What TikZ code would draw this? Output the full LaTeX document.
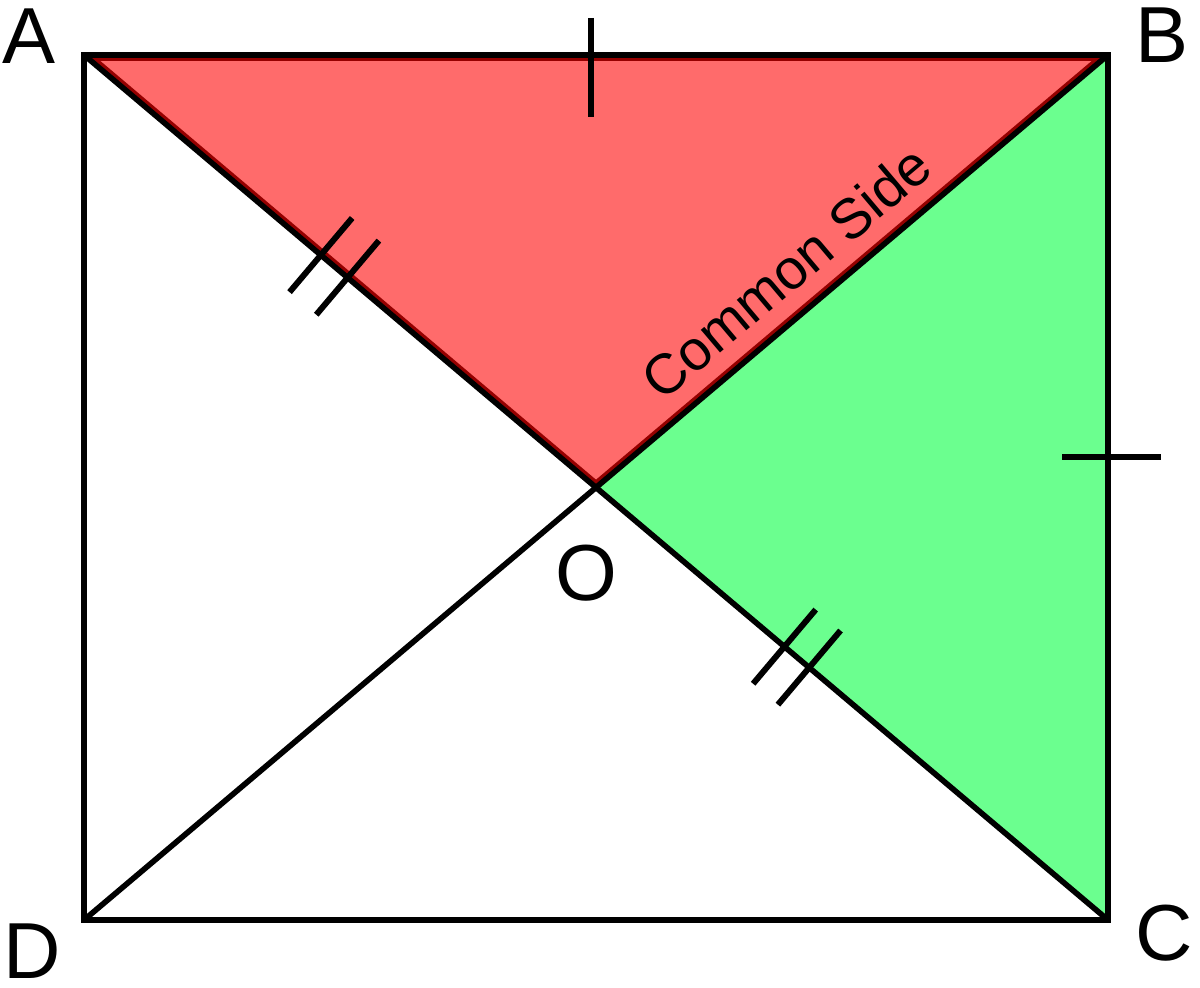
\documentclass[tikz,border=0pt]{standalone}
\usepackage{fontspec}
\setmainfont{Liberation Sans}
\usetikzlibrary{calc}
\definecolor{redfill}{RGB}{255,107,107}
\definecolor{rededge}{RGB}{150,0,0}
\definecolor{greenfill}{RGB}{107,255,143}
\begin{document}
\begin{tikzpicture}[x=0.01cm,y=-0.01cm,
  edge/.style={line width=1.6pt, black, line join=miter},
  tickmark/.style={line width=1.7pt, black},
  vlabel/.style={font=\fontsize{22.6}{27}\selectfont, inner sep=0pt},
  clabel/.style={font=\fontsize{16}{19}\selectfont, inner sep=0pt}]
\useasboundingbox (0,0) rectangle (1200,988);
\coordinate (A) at (84,55);
\coordinate (B) at (1108,55);
\coordinate (C) at (1108,920);
\coordinate (D) at (84,920);
\coordinate (O) at (596,487.5);
% coloured triangles
\fill[redfill] (A)--(B)--(O)--cycle;
\begin{scope}
  \clip (A)--(B)--(O)--cycle;
  \draw[rededge, line width=3.4pt, line join=miter] (A)--(B)--(O)--cycle;
\end{scope}
\fill[greenfill] (B)--(C)--(O)--cycle;
% rectangle and diagonals
\draw[edge] (A)--(B)--(C)--(D)--cycle;
\draw[edge] (A)--(C);
\draw[edge] (B)--(D);
% single ticks
\draw[tickmark] (591,18)--(591,117);
\draw[tickmark] (1062,457)--(1161,457);
% double ticks
\coordinate (m1) at ($(A)!0.4626!(O)$);
\coordinate (m2) at ($(A)!0.5148!(O)$);
\coordinate (m3) at ($(O)!0.368!(C)$);
\coordinate (m4) at ($(O)!0.4164!(C)$);
\foreach \m in {m1,m2,m3,m4}{
  \draw[tickmark] ($(\m)!0.485cm!90:(O)$) -- ($(\m)!0.485cm!-90:(O)$);
}
% labels
\node[vlabel] (lA) at (29,36.5) {A};
\node[vlabel] (lB) at (1162,35) {B};
\node[vlabel] (lC) at (1164,933.5) {C};
\node[vlabel] (lD) at (32.5,951) {D};
\node[vlabel] (lO) at (586.5,573.5) {O};
\node[clabel, rotate=40.2] (cs) at (786,272) {Common Side};
\end{tikzpicture}
\end{document}
